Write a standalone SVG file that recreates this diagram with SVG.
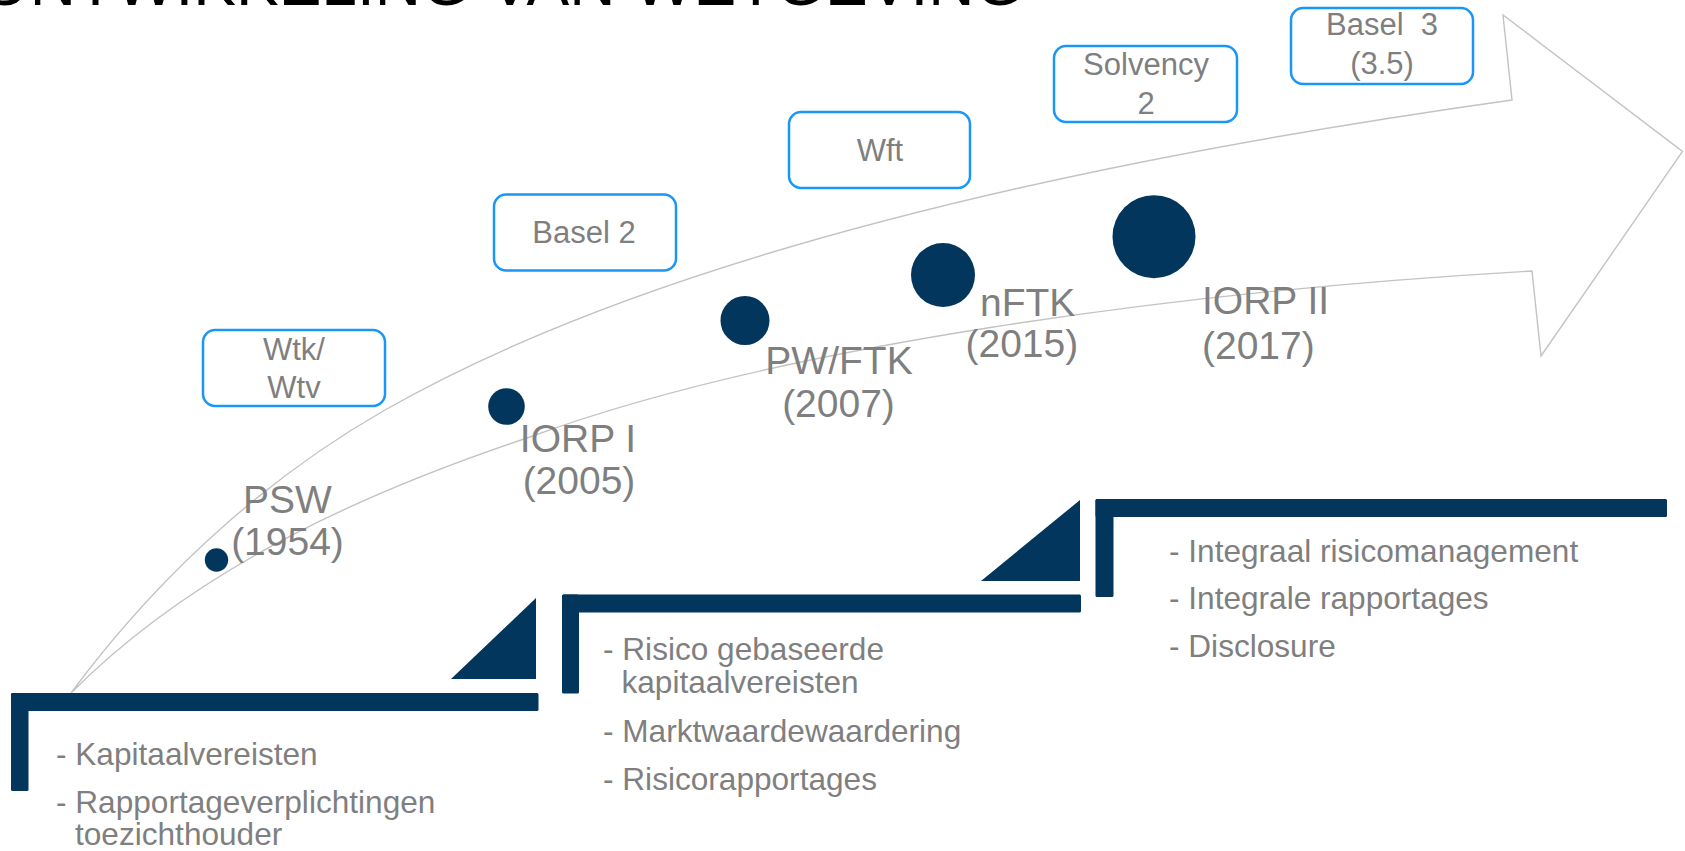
<svg xmlns="http://www.w3.org/2000/svg" width="1685" height="851" viewBox="0 0 1685 851">
<style>
.lbl{font-family:"Liberation Sans",Arial,sans-serif;font-size:39px;fill:#7F7F7F}
.box{fill:#FFFFFF;stroke:#1A96F7;stroke-width:2.5}
.btxt{font-family:"Liberation Sans",Arial,sans-serif;font-size:31px;fill:#7F7F7F;text-anchor:middle}
.bul{font-family:"Liberation Sans",Arial,sans-serif;font-size:31.6px;fill:#7F7F7F}
.navy{fill:#02365D}
.title{font-family:"Liberation Sans",Arial,sans-serif;font-size:64px;fill:#000000}
</style>
<rect x="0" y="0" width="1685" height="851" fill="#FFFFFF"/>
<text class="title" x="-20" y="5">ONTWIKKELING VAN WETGEVING</text>

<g id="connectors">
<path d="M71,693 C171,558 285,467 385,410 C685,239 1163,149 1512,100 L1503,15 L1682.5,151.5 L1541,356 L1532,271 C1182,291 780,345 530,437 C380,487 201,562 71,693 Z" fill="none" stroke="#C3C3C3" stroke-width="1.4" stroke-linejoin="miter"/>
</g>

<g id="node-psw">
<circle class="navy" cx="216.5" cy="560" r="11.7"/>
<text class="lbl" x="287.5" y="513" text-anchor="middle">PSW</text>
<text class="lbl" x="287.5" y="555" text-anchor="middle">(1954)</text>
</g>
<g id="node-iorp1">
<circle class="navy" cx="506.5" cy="406.5" r="18.3"/>
<text class="lbl" x="578" y="451.5" text-anchor="middle">IORP I</text>
<text class="lbl" x="579" y="493.5" text-anchor="middle">(2005)</text>
</g>
<g id="node-pwftk">
<circle class="navy" cx="745" cy="320.5" r="24.5"/>
<text class="lbl" x="839" y="374" text-anchor="middle">PW/FTK</text>
<text class="lbl" x="838.5" y="417" text-anchor="middle">(2007)</text>
</g>
<g id="node-nftk">
<circle class="navy" cx="943" cy="275" r="32"/>
<text class="lbl" x="980" y="315.5">nFTK</text>
<text class="lbl" x="965.5" y="357">(2015)</text>
</g>
<g id="node-iorp2">
<circle class="navy" cx="1154" cy="236.7" r="41.5"/>
<text class="lbl" x="1202" y="313.5">IORP II</text>
<text class="lbl" x="1202" y="359">(2017)</text>
</g>

<g id="box-wtk">
<rect class="box" x="203" y="330" width="182" height="76" rx="12"/>
<text class="btxt" x="294" y="360">Wtk/</text>
<text class="btxt" x="294" y="398">Wtv</text>
</g>
<g id="box-basel2">
<rect class="box" x="494" y="194.5" width="182" height="76" rx="12"/>
<text class="btxt" x="584" y="243.3">Basel 2</text>
</g>
<g id="box-wft">
<rect class="box" x="789" y="112" width="181" height="76" rx="12"/>
<text class="btxt" x="880" y="160.7">Wft</text>
</g>
<g id="box-solvency2">
<rect class="box" x="1054" y="46" width="183" height="76" rx="12"/>
<text class="btxt" x="1146" y="75">Solvency</text>
<text class="btxt" x="1146" y="114">2</text>
</g>
<g id="box-basel3">
<rect class="box" x="1291" y="8" width="182" height="76" rx="12"/>
<text class="btxt" x="1382" y="35">Basel&#160; 3</text>
<text class="btxt" x="1382" y="74">(3.5)</text>
</g>

<g id="step-1">
<rect class="navy" x="11" y="693" width="527.5" height="18" rx="1.5"/>
<rect class="navy" x="11" y="693" width="17.5" height="98" rx="1.5"/>
<polygon class="navy" points="451,679 536,679 536,598"/>
<text class="bul" x="56" y="765">- Kapitaalvereisten</text>
<text class="bul" x="56" y="812.5">- Rapportageverplichtingen</text>
<text class="bul" x="75" y="845">toezichthouder</text>
</g>
<g id="step-2">
<rect class="navy" x="562" y="594.5" width="519" height="18" rx="1.5"/>
<rect class="navy" x="562" y="594.5" width="17" height="99" rx="1.5"/>
<polygon class="navy" points="981,581 1080,581 1080,500"/>
<text class="bul" x="603" y="660">- Risico gebaseerde</text>
<text class="bul" x="621.5" y="693">kapitaalvereisten</text>
<text class="bul" x="603" y="741.5">- Marktwaardewaardering</text>
<text class="bul" x="603" y="790">- Risicorapportages</text>
</g>
<g id="step-3">
<rect class="navy" x="1095.5" y="499" width="571.5" height="18" rx="1.5"/>
<rect class="navy" x="1095.5" y="499" width="18" height="98" rx="1.5"/>
<text class="bul" x="1169" y="562">- Integraal risicomanagement</text>
<text class="bul" x="1169" y="609">- Integrale rapportages</text>
<text class="bul" x="1169" y="657">- Disclosure</text>
</g>
</svg>
